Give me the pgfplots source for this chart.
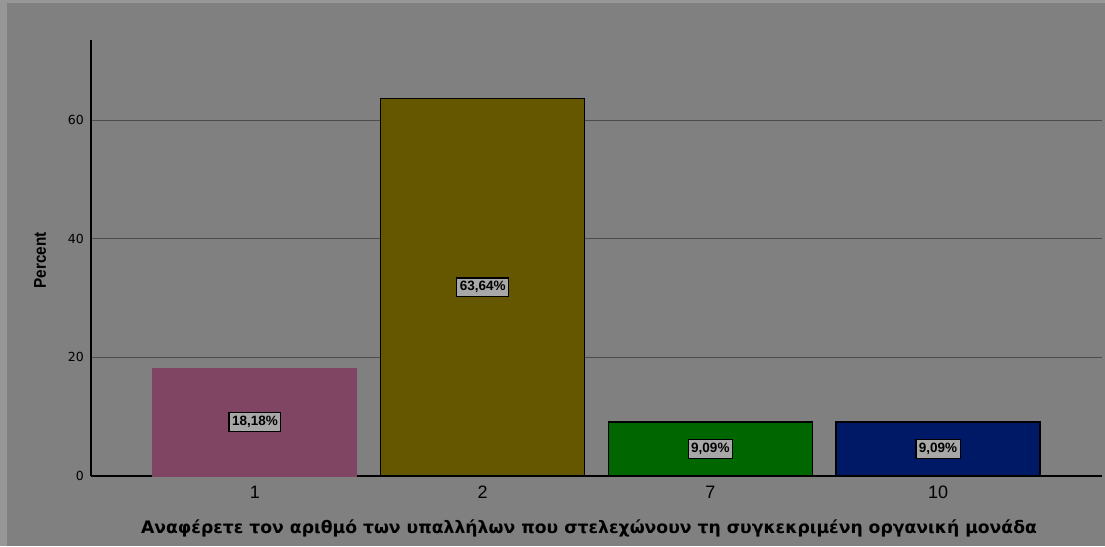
\documentclass[border=0pt]{standalone}
\usepackage{fontspec}
\setmainfont{Liberation Sans}
\newfontfamily\dejavu{DejaVu Sans}
\usepackage{graphicx}
\usepackage{pgfplots}
\pgfplotsset{compat=1.18}
\definecolor{bg}{HTML}{808080}
\definecolor{band}{HTML}{979797}
\definecolor{gridc}{HTML}{4C4C4C}
\definecolor{cA}{HTML}{804562}
\definecolor{cB}{HTML}{655600}
\definecolor{cC}{HTML}{006600}
\definecolor{cD}{HTML}{001966}
\definecolor{boxc}{HTML}{A8A8A8}
\begin{document}
\begin{tikzpicture}
\fill[band] (-91pt,-70pt) rectangle (1014pt,476pt);
\fill[bg] (-84pt,-70pt) rectangle (1014pt,473pt);
\useasboundingbox (-91pt,-70pt) rectangle (1014pt,476pt);
\begin{axis}[
  scale only axis, width=1011pt, height=436pt,
  xmin=-0.72, xmax=3.72, ymin=0, ymax=73.5,
  axis x line=bottom, axis y line=left,
  axis line style={-, black, line width=1.1pt},
  xtick={0,1,2,3}, xticklabels={1,2,7,10},
  ytick={0,20,40,60},
  major tick length=0pt,
  ymajorgrids, grid style={color=gridc, line width=1.1pt},
  yticklabel style={font=\dejavu\fontsize{12.5}{14}\selectfont, anchor=east, inner sep=0pt, xshift=-7pt},
  xticklabel style={font=\fontsize{18}{20}\selectfont, anchor=north, inner sep=0pt, yshift=-10pt},
  /pgf/number format/assume math mode=true,
  xlabel={Αναφέρετε τον αριθμό των υπαλλήλων που στελεχώνουν τη συγκεκριμένη οργανική μονάδα},
  xlabel style={font=\dejavu\bfseries\fontsize{17.2}{19}\selectfont, at={(axis description cs:0.4926,0)}, anchor=center, yshift=-52pt},
  ylabel={\scalebox{0.9}[1]{Percent}},
  ylabel style={font=\bfseries\fontsize{17}{19}\selectfont, at={(axis description cs:-0.0504,0.495)}, anchor=center},
]
\addplot[ybar, bar width=204pt, bar shift=0pt, fill=cA, draw=cA, line width=1pt] coordinates {(0,18.18)};
\addplot[ybar, bar width=204pt, bar shift=0pt, fill=cB, draw=black, line width=1.3pt] coordinates {(1,63.64)};
\addplot[ybar, bar width=204pt, bar shift=0pt, fill=cC, draw=black, line width=1.3pt] coordinates {(2,9.09)};
\addplot[ybar, bar width=204pt, bar shift=0pt, fill=cD, draw=black, line width=1.3pt] coordinates {(3,9.09)};
\addplot[draw=none, mark=none, nodes near coords, point meta=explicit symbolic,
  nodes near coords align=center,
  every node near coord/.style={anchor=center, fill=boxc, draw=black, line width=1.3pt, inner xsep=3pt, inner ysep=3.5pt, font=\bfseries\fontsize{13.5}{15}\selectfont, text=black}]
  coordinates {(0,9.09)[18,18\%] (1,31.82)[63,64\%] (2,4.545)[9,09\%] (3,4.545)[9,09\%]};
\end{axis}
\end{tikzpicture}
\end{document}
